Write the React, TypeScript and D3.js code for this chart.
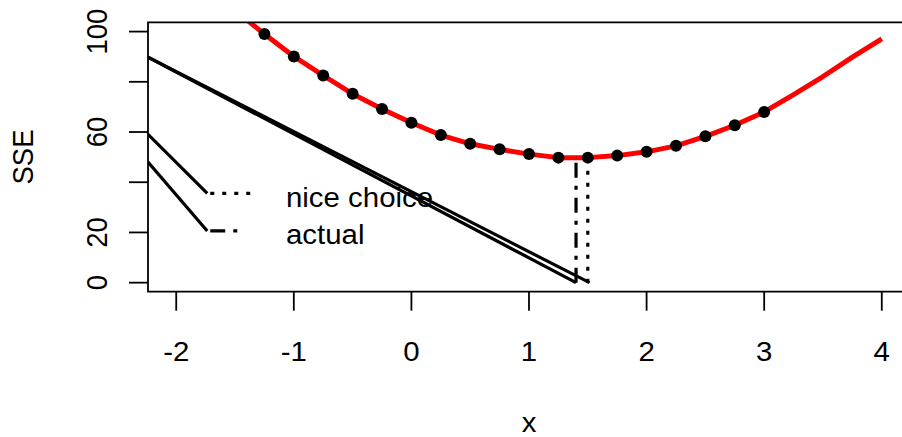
import React from "react";
import * as d3 from "d3";

// -- DATA --
// red SSE curve, evaluated on a 0.25 grid
const curveX = [-1.5, -1.25, -1, -0.75, -0.5, -0.25, 0, 0.25, 0.5, 0.75, 1, 1.25, 1.5, 1.75, 2, 2.25, 2.5, 2.75, 3, 3.25, 3.5, 3.75, 4];
const curveSSE = [108.5, 99.0, 90.1, 82.5, 75.2, 69.2, 63.7, 58.8, 55.3, 53.1, 51.2, 49.8, 49.8, 50.6, 52.1, 54.5, 58.3, 62.7, 68.0, 74.9, 82.1, 89.8, 97.1];
// black dots
const dotX = [-1.25, -1, -0.75, -0.5, -0.25, 0, 0.25, 0.5, 0.75, 1, 1.25, 1.5, 1.75, 2, 2.25, 2.5, 2.75, 3];
const dotSSE = [99.0, 90.1, 82.5, 75.2, 69.2, 63.7, 58.8, 55.3, 53.1, 51.2, 49.8, 49.8, 50.6, 52.1, 54.5, 58.3, 62.7, 68.0];
// vertical markers
const actualX = 1.4;
const niceX = 1.5;
const markerTop = 49.9;
// black sloped lines [x1, y1, x2, y2]
const slopeLines = [
  [-2.24, 89.8, 1.4, 0],
  [-2.24, 89.8, 1.515, 0],
  [-2.24, 59.1, -1.736, 35.6],
  [-2.24, 48.0, -1.736, 20.6],
];
// legend
const legendLabels = ["nice choice", "actual"];
const legendSSE = [35.6, 20.6];
const legendDash = ["4,8", "15,8,4,8"];
const legendEnd = [-1.317, -1.45];

const xTicks = [-2, -1, 0, 1, 2, 3, 4];
const yTicks = [0, 20, 40, 60, 80, 100];
const yLabelled = [0, 20, 60, 100];

const App = () => {
  const svgRef = React.useRef(null);
  const W = 902;
  const H = 437;
  const box = { left: 148, right: 910, top: 22.3, bottom: 291.7 };
  const font = "'Liberation Sans', Arial, Helvetica, sans-serif";
  const fs = 27.5;
  const sx = 1.07; // picture is a bit wider than tall

  React.useEffect(() => {
    const svg = d3.select(svgRef.current);
    svg.selectAll("*").remove();

    const x = d3.scaleLinear().domain([-2.24, 4.24]).range([box.left, box.right]);
    const y = d3.scaleLinear().domain([-3.6, 103.7]).range([box.bottom, box.top]);

    const addText = (g, tx, ty, rot, anchor, txt) =>
      g
        .append("text")
        .attr("transform", `translate(${tx},${ty}) scale(${sx},1)` + (rot ? ` rotate(${rot})` : ""))
        .attr("text-anchor", anchor)
        .style("font-family", font)
        .style("font-size", fs + "px")
        .text(txt);

    svg
      .append("clipPath")
      .attr("id", "plotclip")
      .append("rect")
      .attr("x", box.left)
      .attr("y", box.top)
      .attr("width", box.right - box.left)
      .attr("height", box.bottom - box.top);

    const plot = svg.append("g").attr("clip-path", "url(#plotclip)");

    // sloped black lines
    plot
      .selectAll("line.slope")
      .data(slopeLines)
      .enter()
      .append("line")
      .attr("x1", (d) => x(d[0]))
      .attr("y1", (d) => y(d[1]))
      .attr("x2", (d) => x(d[2]))
      .attr("y2", (d) => y(d[3]))
      .style("stroke", "black")
      .style("stroke-width", 3.2);

    // vertical markers
    plot
      .append("line")
      .attr("x1", x(actualX))
      .attr("x2", x(actualX))
      .attr("y1", y(0))
      .attr("y2", y(markerTop))
      .style("stroke", "black")
      .style("stroke-width", 3.2)
      .style("stroke-dasharray", legendDash[1]);
    plot
      .append("line")
      .attr("x1", x(niceX))
      .attr("x2", x(niceX))
      .attr("y1", y(0))
      .attr("y2", y(markerTop))
      .style("stroke", "black")
      .style("stroke-width", 3.2)
      .style("stroke-dasharray", legendDash[0]);

    // red curve
    const line = d3
      .line<number>()
      .x((d, i) => x(curveX[i]))
      .y((d) => y(d));
    plot
      .append("path")
      .attr("d", line(curveSSE))
      .style("fill", "none")
      .style("stroke", "#ff0000")
      .style("stroke-width", 5)
      .style("stroke-linejoin", "round");

    // dots
    plot
      .selectAll("circle")
      .data(dotSSE)
      .enter()
      .append("circle")
      .attr("cx", (d, i) => x(dotX[i]))
      .attr("cy", (d) => y(d))
      .attr("r", 6)
      .style("fill", "black");

    // legend
    const lx0 = -1.736;
    const ltx = -1.067;
    legendLabels.forEach((lab, i) => {
      plot
        .append("line")
        .attr("x1", x(lx0) + 3)
        .attr("x2", x(legendEnd[i]))
        .attr("y1", y(legendSSE[i]))
        .attr("y2", y(legendSSE[i]))
        .style("stroke", "black")
        .style("stroke-width", 3.2)
        .style("stroke-dasharray", legendDash[i]);
      addText(svg, x(ltx), y(legendSSE[i]) + 13.5, 0, "start", lab);
    });

    // box (right edge runs past the window)
    svg
      .append("path")
      .attr("d", `M${box.right},${box.top}H${box.left}V${box.bottom}H${box.right}`)
      .style("fill", "none")
      .style("stroke", "black")
      .style("stroke-width", 1.8);

    // x axis
    const xa = svg.append("g");
    xa.selectAll("line")
      .data(xTicks)
      .enter()
      .append("line")
      .attr("x1", (d) => x(d))
      .attr("x2", (d) => x(d))
      .attr("y1", box.bottom)
      .attr("y2", box.bottom + 19)
      .style("stroke", "black")
      .style("stroke-width", 1.8);
    xTicks.forEach((d) => addText(xa, x(d), 361, 0, "middle", d < 0 ? "-" + Math.abs(d) : String(d)));

    // y axis
    const ya = svg.append("g");
    ya.selectAll("line")
      .data(yTicks)
      .enter()
      .append("line")
      .attr("x1", box.left)
      .attr("x2", box.left - 19)
      .attr("y1", (d) => y(d))
      .attr("y2", (d) => y(d))
      .style("stroke", "black")
      .style("stroke-width", 1.8);
    yLabelled.forEach((d) => addText(ya, 107, y(d), -90, "middle", String(d)));

    // axis titles
    addText(svg, (box.left + box.right) / 2, 432, 0, "middle", "x");
    addText(svg, 33, (box.top + box.bottom) / 2, -90, "middle", "SSE");
  }, []);

  // -- RENDER --
  return (
    <svg
      ref={svgRef}
      width={W}
      height={H}
      style={{ position: "absolute", left: 0, top: 0, background: "white" }}
    />
  );
};

export default App;
